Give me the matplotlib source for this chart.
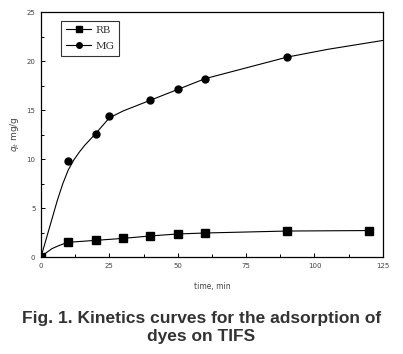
import matplotlib.pyplot as plt

# measured data
t_rb = [0, 10, 20, 30, 40, 50, 60, 90, 120]
q_rb = [0, 1.5, 1.7, 1.9, 2.15, 2.35, 2.45, 2.65, 2.7]
t_mg = [0, 10, 20, 25, 40, 50, 60, 90]
q_mg = [0, 9.8, 12.6, 14.4, 16.0, 17.1, 18.2, 20.4]

# curves as drawn through the points
line_rb_t = [0, 2, 4, 6, 8, 10, 20, 30, 40, 50, 60, 90, 120]
line_rb_q = [0, 0.45, 0.85, 1.1, 1.32, 1.5, 1.7, 1.9, 2.15, 2.35, 2.45, 2.65, 2.7]
line_mg_t = [0, 3, 6, 8, 10, 12, 14, 16, 20, 25, 30, 40, 50, 60, 75, 90, 105, 125]
line_mg_q = [0, 2.9, 5.8, 7.5, 8.9, 9.9, 10.7, 11.4, 12.6, 14.2, 14.9, 16.0, 17.1, 18.2, 19.3, 20.4, 21.2, 22.1]

xticks = [0, 25, 50, 75, 100, 125]
yticks = [0, 5, 10, 15, 20, 25]

fig = plt.figure(figsize=(4.03, 3.54), dpi=100)
ax = fig.add_axes([0.1017, 0.274, 0.8483, 0.692])

ax.plot(line_rb_t, line_rb_q, color='black', lw=0.8)
ax.plot(line_mg_t, line_mg_q, color='black', lw=0.8)
ax.plot(t_rb, q_rb, 's', color='black', ms=5.3)
ax.plot(t_mg, q_mg, 'o', color='black', ms=5)

# legend handles
ax.plot([], [], '-s', color='black', ms=4, lw=0.8, label='RB')
ax.plot([], [], '-o', color='black', ms=4, lw=0.8, label='MG')
h, l = ax.get_legend_handles_labels()
leg = ax.legend(h[-2:], l[-2:], loc='upper left', bbox_to_anchor=(0.06, 0.963),
                borderaxespad=0, frameon=True, fancybox=False, edgecolor='black',
                handlelength=2.4, handletextpad=0.4, borderpad=0.45,
                labelspacing=0.65, prop={'family': 'DejaVu Serif', 'size': 7.5})
leg.get_frame().set_linewidth(0.8)
for t in leg.get_texts():
    t.set_color('#333333')

ax.set_xlim(0, 125)
ax.set_ylim(0, 25)
ax.set_xticks(xticks)
ax.set_yticks(yticks)
ax.set_xticks([12.5, 37.5, 62.5, 87.5, 112.5], minor=True)
ax.set_yticks([2.5, 7.5, 12.5, 17.5, 22.5], minor=True)
ax.tick_params(which='both', direction='in', labelsize=5, labelcolor='#444444',
               width=0.7, pad=4)
ax.tick_params(which='major', length=3)
ax.tick_params(which='minor', length=2)
for s in ax.spines.values():
    s.set_linewidth(0.9)

ax.set_xlabel('time, min', fontsize=5.5, color='#444444', labelpad=10)
ax.set_ylabel(r'$q_t$ mg/g', fontsize=6.5, color='#444444', labelpad=4)

fig.text(0.5, 0.075, 'Fig. 1. Kinetics curves for the adsorption of\ndyes on TIFS',
         ha='center', va='center', fontsize=12.5, fontweight='bold',
         color='#333333', family='Liberation Sans', linespacing=1.25)

fig.savefig('out.png', dpi=100)
